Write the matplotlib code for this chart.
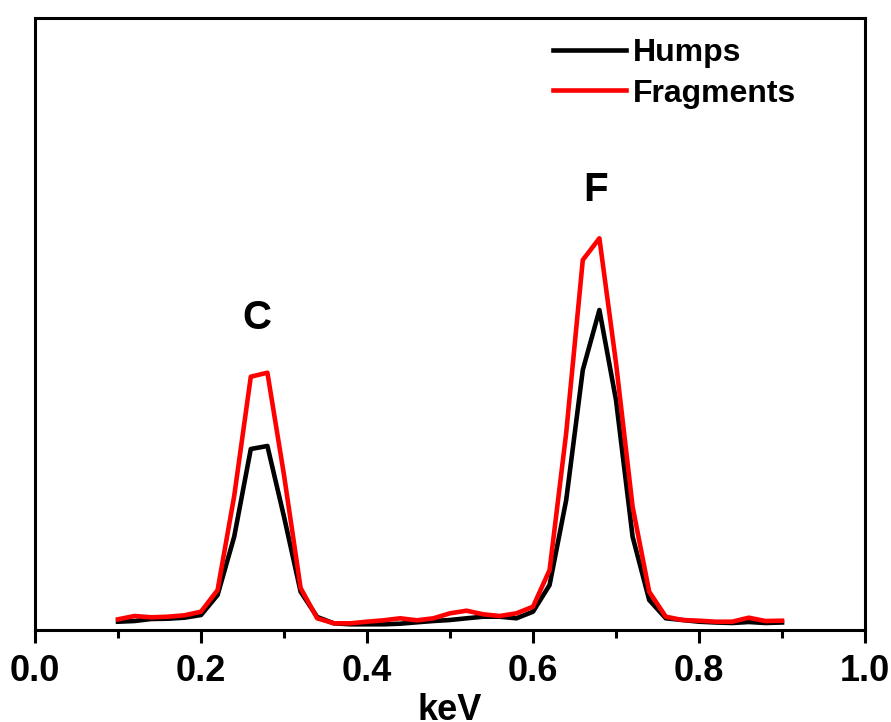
import numpy as np
import matplotlib
matplotlib.use('Agg')
import matplotlib.pyplot as plt
from matplotlib.ticker import MultipleLocator, NullLocator

plt.rcParams['font.family'] = ['Liberation Sans', 'DejaVu Sans']
plt.rcParams['font.weight'] = 'bold'

# EDS spectra, 0.1 - 0.9 keV, step 0.02
kev = np.round(np.arange(0.10, 0.901, 0.02), 2)
humps = [8.3, 9, 11, 11.3, 12.3, 15, 35, 93.3, 181, 184,
         113.3, 38.3, 13, 6.7, 5.7, 5.7, 5.7, 6.3, 7.7, 9,
         10, 11.7, 13.3, 13.3, 11.7, 18.3, 45, 130, 260, 320,
         230, 93.3, 30, 11.7, 10, 8.3, 7.5, 7, 8, 7, 7.5]
fragments = [10.7, 14, 12.7, 13.3, 14.7, 18.3, 40, 134, 253.3, 257.3,
             155, 42, 11.7, 6.7, 6.7, 8.3, 9.7, 11.7, 9.7, 11.7,
             16.7, 19.3, 15.7, 14, 16.7, 23.3, 60, 197, 370, 391.7,
             267, 123.3, 38.3, 13.3, 10, 9.3, 8.3, 8.3, 12.3, 9, 9.3]

peak_labels = ['C', 'F']
peak_pos = [(0.267, 312), (0.675, 440)]

fig = plt.figure(figsize=(8.91, 7.22), dpi=100, facecolor='white')
ax = fig.add_axes([35 / 891, 1 - 630 / 722, 830 / 891, 612 / 722])

ax.plot(kev, humps, color='black', lw=3.3, label='Humps')
ax.plot(kev, fragments, color='#ff0000', lw=3.3, label='Fragments')

for lab, (x, y) in zip(peak_labels, peak_pos):
    ax.text(x, y, lab, fontsize=29, fontweight='bold', ha='center', va='center')

ax.set_xlim(0, 1.0)
ax.set_ylim(0, 612)
ax.xaxis.set_major_locator(MultipleLocator(0.2))
ax.xaxis.set_minor_locator(MultipleLocator(0.1))
ax.xaxis.set_major_formatter(matplotlib.ticker.FormatStrFormatter('%.1f'))
ax.yaxis.set_major_locator(NullLocator())
ax.tick_params(axis='x', which='major', direction='out', length=9, width=2.2,
               labelsize=26, pad=8)
ax.tick_params(axis='x', which='minor', direction='out', length=6, width=2.2)
for s in ax.spines.values():
    s.set_linewidth(2.2)

ax.set_xlabel('keV', fontsize=26, fontweight='bold', labelpad=3)

leg = ax.legend(loc='upper left', bbox_to_anchor=(553 / 891, 1 - 38 / 722),
                bbox_transform=fig.transFigure, frameon=False, fontsize=23,
                handlelength=2.3, handletextpad=0.2, labelspacing=0.33,
                borderpad=0, borderaxespad=0)
for t in leg.get_texts():
    t.set_fontweight('bold')

fig.savefig('out.png', dpi=100, facecolor='white')
